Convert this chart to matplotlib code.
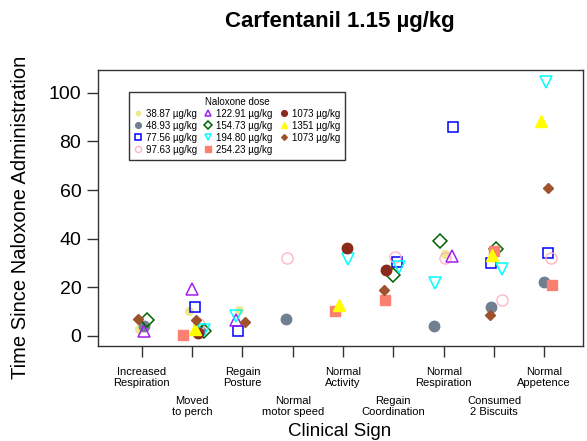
import matplotlib
matplotlib.use("Agg")
import matplotlib.pyplot as plt
from matplotlib.lines import Line2D

plt.rcParams['font.family'] = ['Liberation Sans', 'DejaVu Sans']

categories = ["Increased\nRespiration", "Moved\nto perch", "Regain\nPosture",
              "Normal\nmotor speed", "Normal\nActivity", "Regain\nCoordination",
              "Normal\nRespiration", "Consumed\n2 Biscuits", "Normal\nAppetence"]

doses = ["38.87 µg/kg", "48.93 µg/kg", "77.56 µg/kg", "97.63 µg/kg",
         "122.91 µg/kg", "154.73 µg/kg", "194.80 µg/kg", "254.23 µg/kg",
         "1073 µg/kg", "1351 µg/kg", "1073 µg/kg"]

# category index (1-based), time value, jitter offset per series
cat_3887 = [1, 2, 3, 7]
val_3887 = [2.9, 10.4, 10.5, 33.8]
jit_3887 = [-0.05, -0.07, -0.06, 0.02]

cat_4893 = [1, 2, 4, 7, 8, 9]
val_4893 = [4.2, 1.9, 7.0, 4.0, 11.9, 22.0]
jit_4893 = [0.05, 0.15, -0.13, -0.19, -0.06, 0.0]

cat_7756 = [2, 3, 6, 7, 8, 9]
val_7756 = [11.9, 1.9, 30.2, 86.1, 30.0, 34.1]
jit_7756 = [0.05, -0.09, 0.07, 0.19, -0.05, 0.07]

cat_9763 = [2, 4, 6, 7, 8, 9]
val_9763 = [4.9, 32.0, 32.4, 32.0, 14.9, 32.0]
jit_9763 = [0.13, -0.12, 0.03, 0.02, 0.16, 0.13]

cat_12291 = [1, 2, 3, 7]
val_12291 = [1.9, 19.4, 6.4, 32.7]
jit_12291 = [0.05, 0.0, -0.12, 0.17]

cat_15473 = [1, 2, 6, 7, 8]
val_15473 = [6.7, 1.9, 24.9, 38.9, 35.9]
jit_15473 = [0.11, 0.23, 0.0, -0.08, 0.04]

cat_19480 = [2, 3, 5, 6, 7, 8, 9]
val_19480 = [2.3, 8.3, 31.6, 28.2, 21.8, 27.5, 104.3]
jit_19480 = [0.23, -0.13, 0.09, 0.12, -0.18, 0.16, 0.03]

cat_25423 = [2, 5, 6, 8, 9]
val_25423 = [0.5, 10.1, 14.9, 35.0, 21.1]
jit_25423 = [-0.19, -0.16, -0.17, 0.0, 0.15]

cat_1073a = [2, 5, 6]
val_1073a = [1.2, 36.1, 27.0]
jit_1073a = [0.12, 0.07, -0.15]

cat_1351 = [2, 5, 8, 9]
val_1351 = [2.6, 12.6, 33.4, 88.4]
jit_1351 = [0.05, -0.08, -0.03, -0.06]

cat_1073b = [1, 2, 3, 6, 8, 9]
val_1073b = [7.0, 6.7, 5.7, 19.0, 8.7, 60.8]
jit_1073b = [-0.07, 0.08, 0.05, -0.18, -0.07, 0.08]

yticks = [0, 20, 40, 60, 80, 100]

series = [
    (cat_3887, val_3887, jit_3887, dict(marker='o', color='#F0E68C', mfc='#F0E68C', ms=5.5)),
    (cat_4893, val_4893, jit_4893, dict(marker='o', color='#708090', mfc='#708090', ms=7.5)),
    (cat_7756, val_7756, jit_7756, dict(marker='s', color='#0000FF', mfc='none', ms=7.5, mew=1.1)),
    (cat_9763, val_9763, jit_9763, dict(marker='o', color='#FFB6C1', mfc='none', ms=8.0, mew=1.0)),
    (cat_12291, val_12291, jit_12291, dict(marker='^', color='#A020F0', mfc='none', ms=9.0, mew=1.1)),
    (cat_15473, val_15473, jit_15473, dict(marker='D', color='#006400', mfc='none', ms=7.0, mew=1.1)),
    (cat_19480, val_19480, jit_19480, dict(marker='v', color='#00FFFF', mfc='none', ms=9.0, mew=1.1)),
    (cat_25423, val_25423, jit_25423, dict(marker='s', color='#FA8072', mfc='#FA8072', ms=6.8)),
    (cat_1073a, val_1073a, jit_1073a, dict(marker='o', color='#8B2A1A', mfc='#8B2A1A', ms=7.5)),
    (cat_1351, val_1351, jit_1351, dict(marker='^', color='#FFFF00', mfc='#FFFF00', ms=9.0)),
    (cat_1073b, val_1073b, jit_1073b, dict(marker='D', color='#A0522D', mfc='#A0522D', ms=5.3)),
]

fig = plt.figure(figsize=(5.87, 4.41), dpi=100)
ax = fig.add_axes([98/587, 1-346/441, (583-98)/587, (346-70)/441])

handles = []
for (cats, vals, jits, st), lab in zip(series, doses):
    xs = [c + j for c, j in zip(cats, jits)]
    ax.plot(xs, vals, linestyle='none', **st)
    hst = dict(st)
    hst['ms'] = st['ms'] * 0.55
    handles.append(Line2D([], [], linestyle='none', label=lab, **hst))

ax.set_xlim(0.13, 9.77)
ax.set_ylim(-4.2, 109.4)
ax.set_yticks(yticks)
ax.set_yticklabels([str(v) for v in yticks], fontsize=14)
ax.set_xticks(range(1, len(categories) + 1))
ax.set_xticklabels(categories, fontsize=8, linespacing=1.15)
for i, t in enumerate(ax.xaxis.get_major_ticks()):
    t.set_pad(7 if i % 2 == 0 else 28)

for s in ax.spines.values():
    s.set_color('#333333')
    s.set_linewidth(1.0)
ax.tick_params(axis='both', direction='out', length=8, width=1.0, color='#333333')
ax.tick_params(axis='y', pad=4)

ax.set_ylabel("Time Since Naloxone Administration", fontsize=14.5)
ax.yaxis.set_label_coords(-0.14, 0.465)
fig.text(340/587, 1 - 22/441, "Carfentanil 1.15 µg/kg", fontsize=16, fontweight='bold',
         ha='center', va='center')
fig.text(340/587, 1 - 432/441, "Clinical Sign", fontsize=13.5, ha='center', va='center')

leg = ax.legend(handles=handles, ncol=3, title="Naloxone dose", fontsize=7,
                title_fontsize=7, loc='upper left', bbox_to_anchor=(0.064, 0.92),
                frameon=True, fancybox=False, edgecolor='black', borderpad=0.5,
                handlelength=0.8, handletextpad=0.4, columnspacing=0.8,
                labelspacing=0.2, borderaxespad=0)
leg.get_frame().set_linewidth(1.0)

fig.savefig("out.png", dpi=100)
